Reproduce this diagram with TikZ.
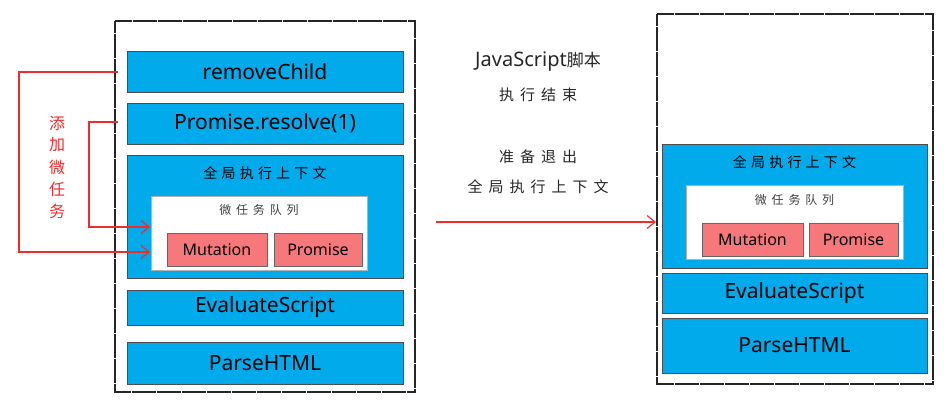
\documentclass[tikz,border=0pt]{standalone}
\usepackage{fontspec}
\setmainfont{Noto Sans}
\newfontfamily\cjk{Noto Sans CJK SC}
\newfontfamily\cjkwide[LetterSpace=30]{Noto Sans CJK SC}
\newfontfamily\cjkwider[LetterSpace=40]{Noto Sans CJK SC}
\usepackage{tikz}
\usepackage{xcolor}
\usetikzlibrary{arrows.meta}
\definecolor{frameblue}{HTML}{00AAEB}
\definecolor{taskred}{HTML}{F6787A}
\definecolor{linered}{HTML}{F22A2A}

\begin{document}
\begin{tikzpicture}
  [x=1pt,y={(0pt,-1pt)},
   every node/.style={inner sep=0pt,outer sep=0pt},
   stack/.style={draw=black!85,line width=1.3pt,dash pattern=on 12pt off 0.5pt},
   frame/.style={draw=black!70,fill=frameblue,line width=0.5pt,font=\fontsize{21}{21}\selectfont},
   qbox/.style={draw=black!30,fill=white,line width=0.5pt},
   task/.style={draw=black!60,fill=taskred,line width=0.5pt,font=\fontsize{16}{16}\selectfont},
   redline/.style={linered,line width=1.2pt,-{Straight Barb[length=8pt,width=13pt]}},
   midtext/.style={font=\cjkwider\fontsize{15}{15}\selectfont,text=black!85}]
  \useasboundingbox (0,0) rectangle (944,400);

  % left stack
  \draw[stack] (115,21) rectangle (415,392);
  \node[frame,minimum width=276pt,minimum height=41pt] (rc) at (265,71.5) {removeChild};
  \node[frame,minimum width=276pt,minimum height=41pt] (pr) at (265,123.5) {Promise.resolve(1)};
  \node[frame,minimum width=276pt,minimum height=123pt] (ctx) at (265,216.5) {};
  \node[font=\cjkwide\fontsize{14}{14}\selectfont] (ctxt) at (265,173) {全局执行上下文};
  \node[qbox,minimum width=216pt,minimum height=74pt] (q) at (259,233) {};
  \node[font=\cjkwider\fontsize{12}{12}\selectfont,text=black!75] (qt) at (259,210) {微任务队列};
  \node[task,minimum width=100pt,minimum height=33pt] (mu) at (217,249.5) {Mutation};
  \node[task,minimum width=88pt,minimum height=33pt] (pm) at (318,249.5) {Promise};
  \node[frame,minimum width=276pt,minimum height=35pt] (ev) at (265,307.5) {EvaluateScript};
  \node[frame,minimum width=276pt,minimum height=42pt] (ph) at (265,363) {ParseHTML};

  % red arrows
  \coordinate (a1) at (118,72);
  \coordinate (a2) at (118,122);
  \coordinate (b1) at (150,252);
  \coordinate (b2) at (150,227);
  \draw[redline] (a1) -- (19,72) -- (19,252) -- (b1);
  \draw[redline] (a2) -- (89,122) -- (89,227) -- (b2);
  \foreach \ch [count=\i] in {添,加,微,任,务}
    \node[font=\cjk\fontsize{16}{16}\selectfont,text=linered] (add\i) at (57,101+22*\i) {\ch};

  % middle
  \node[font=\cjk\fontsize{17}{17}\selectfont,text=black!85] (t1) at (538,62) {\fontspec{Noto Sans}\fontsize{20}{20}\selectfont JavaScript\cjk\fontsize{17}{17}\selectfont 脚本};
  \node[midtext] (t2) at (538,95) {执行结束};
  \node[midtext] (t3) at (538,157) {准备退出};
  \node[midtext] (t4) at (538,187) {全局执行上下文};
  \coordinate (m1) at (436,222);

  % right stack
  \draw[stack] (657,14) rectangle (933,384);
  \node[frame,minimum width=265pt,minimum height=124pt] (rctx) at (794.5,206) {};
  \node[font=\cjkwide\fontsize{14}{14}\selectfont] (rctxt) at (794.5,162) {全局执行上下文};
  \node[qbox,minimum width=217pt,minimum height=74pt] (rq) at (794.5,222) {};
  \node[font=\cjkwider\fontsize{12}{12}\selectfont,text=black!75] (rqt) at (794.5,200) {微任务队列};
  \node[task,minimum width=101pt,minimum height=33pt] (rmu) at (752.5,239.5) {Mutation};
  \node[task,minimum width=89pt,minimum height=33pt] (rpm) at (853.5,239.5) {Promise};
  \node[frame,minimum width=265pt,minimum height=40pt] (rev) at (794.5,293) {EvaluateScript};
  \node[frame,minimum width=265pt,minimum height=55pt] (rph) at (794.5,345.5) {ParseHTML};
  \coordinate (m2) at (656,222);
  \draw[redline] (m1) -- (m2);

\end{tikzpicture}
\end{document}
